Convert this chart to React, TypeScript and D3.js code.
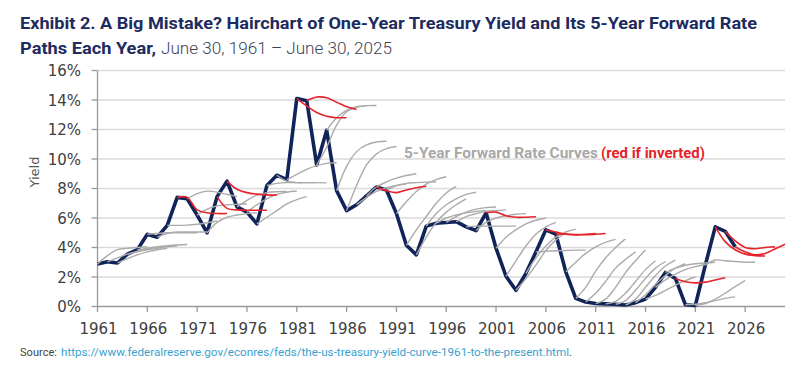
import React from 'react';
import * as d3 from 'd3';

// one-year treasury yield, June 30 each year, 1961..2025 (%)
const firstYear = 1961;
const oneYearYield = [
    2.88, 3.03, 2.95, 3.55, 3.85, 4.9, 4.7, 5.5, 7.4, 7.3,
    6.2, 5.0, 7.45, 8.5, 6.75, 6.4, 5.6, 8.2, 8.9, 8.6,
    14.1, 13.95, 9.6, 11.95, 7.85, 6.5, 6.9, 7.5, 8.1, 7.9,
    6.3, 4.15, 3.5, 5.45, 5.65, 5.7, 5.75, 5.4, 5.15, 6.35,
    3.95, 2.05, 1.1, 2.25, 3.7, 5.2, 4.9, 2.35, 0.55, 0.3,
    0.2, 0.18, 0.15, 0.1, 0.26, 0.5, 1.3, 2.31, 1.9, 0.12,
    0.07, 2.8, 5.4, 5.1, 4.05,
];

// 5-year forward rate path from each year (year t .. t+5)
const forwardPaths = [
    [2.88, 3.45, 3.85, 3.95, 4.0, 4.05],
    [3.03, 3.3, 3.55, 3.75, 3.9, 4.0],
    [2.95, 3.25, 3.5, 3.7, 3.85, 3.95],
    [3.55, 3.7, 3.85, 3.95, 4.05, 4.1],
    [3.85, 3.95, 4.05, 4.12, 4.17, 4.2],
    [4.9, 4.95, 5.0, 5.0, 5.0, 5.0],
    [4.7, 4.95, 5.05, 5.05, 5.05, 5.05],
    [5.5, 5.5, 5.52, 5.58, 5.68, 5.8],
    [7.4, 7.4, 6.55, 6.35, 6.3, 6.3],
    [7.3, 7.65, 7.82, 7.75, 7.6, 7.45],
    [6.2, 6.6, 6.82, 6.9, 6.93, 6.95],
    [5.0, 5.7, 6.05, 6.2, 6.3, 6.35],
    [7.45, 6.65, 6.55, 6.53, 6.53, 6.53],
    [8.5, 7.95, 7.72, 7.62, 7.57, 7.55],
    [6.75, 7.2, 7.55, 7.72, 7.78, 7.8],
    [6.4, 6.9, 7.3, 7.6, 7.75, 7.83],
    [5.6, 6.05, 6.5, 6.95, 7.25, 7.45],
    [8.2, 8.35, 8.4, 8.4, 8.4, 8.4],
    [8.9, 8.5, 8.4, 8.4, 8.4, 8.38],
    [8.6, 8.95, 9.3, 9.55, 9.7, 9.75],
    [14.1, 13.6, 13.15, 12.9, 12.8, 12.8],
    [13.95, 14.2, 14.15, 13.85, 13.55, 13.35],
    [9.6, 10.8, 12.3, 13.2, 13.5, 13.6],
    [11.95, 12.8, 13.3, 13.55, 13.62, 13.63],
    [7.85, 9.5, 10.5, 10.95, 11.15, 11.2],
    [6.5, 8.2, 9.6, 10.35, 10.7, 10.85],
    [6.9, 7.4, 7.8, 8.05, 8.2, 8.3],
    [7.5, 8.1, 8.45, 8.7, 8.88, 9.0],
    [8.1, 7.85, 7.72, 7.9, 8.05, 8.15],
    [7.9, 8.2, 8.35, 8.4, 8.43, 8.45],
    [6.3, 7.1, 7.8, 8.3, 8.6, 8.8],
    [4.15, 5.2, 6.1, 7.0, 7.7, 8.15],
    [3.5, 4.7, 5.7, 6.4, 6.9, 7.3],
    [5.45, 6.3, 6.9, 7.3, 7.6, 7.75],
    [5.65, 6.0, 6.2, 6.35, 6.45, 6.5],
    [5.7, 6.1, 6.4, 6.6, 6.7, 6.75],
    [5.75, 6.1, 6.3, 6.45, 6.5, 6.55],
    [5.4, 5.45, 5.45, 5.45, 5.45, 5.45],
    [5.15, 5.7, 6.0, 6.15, 6.25, 6.3],
    [6.35, 6.4, 6.15, 6.05, 6.05, 6.08],
    [3.95, 4.7, 5.2, 5.6, 5.85, 6.0],
    [2.05, 3.1, 4.1, 4.9, 5.4, 5.7],
    [1.1, 1.9, 2.8, 3.8, 4.5, 5.0],
    [2.25, 3.3, 4.1, 4.7, 5.05, 5.25],
    [3.7, 3.75, 3.78, 3.8, 3.82, 3.82],
    [5.2, 5.05, 4.9, 4.85, 4.9, 4.95],
    [4.9, 4.92, 4.88, 4.86, 4.9, 4.95],
    [2.35, 3.0, 3.6, 4.05, 4.35, 4.55],
    [0.55, 1.3, 2.4, 3.3, 4.0, 4.6],
    [0.3, 0.9, 1.7, 2.6, 3.2, 3.7],
    [0.2, 0.5, 1.3, 2.3, 3.1, 3.85],
    [0.18, 0.35, 0.9, 1.7, 2.5, 3.1],
    [0.15, 0.4, 1.1, 1.9, 2.6, 3.05],
    [0.1, 0.5, 1.3, 2.1, 2.75, 3.15],
    [0.26, 0.8, 1.5, 2.1, 2.6, 2.9],
    [0.5, 0.75, 1.1, 1.45, 1.75, 2.0],
    [1.3, 1.8, 2.2, 2.5, 2.7, 2.85],
    [2.31, 2.6, 2.8, 2.9, 2.95, 3.0],
    [1.9, 1.68, 1.6, 1.65, 1.8, 1.95],
    [0.12, 0.15, 0.25, 0.4, 0.55, 0.65],
    [0.07, 0.2, 0.5, 0.9, 1.35, 1.75],
    [2.8, 3.15, 3.1, 3.05, 3.0, 3.0],
    [5.4, 4.4, 3.85, 3.55, 3.45, 3.42],
    [5.1, 4.45, 4.0, 3.92, 4.0, 4.05],
    [4.05, 3.7, 3.5, 3.6, 3.9, 4.22],
];

const invertedYears = [1969, 1973, 1974, 1981, 1982, 1989, 2000, 2006, 2007, 2019, 2023, 2024, 2025];

const xTicks = [1961, 1966, 1971, 1976, 1981, 1986, 1991, 1996, 2001, 2006, 2011, 2016, 2021, 2026];
const yTicks = [0, 2, 4, 6, 8, 10, 12, 14, 16];

const W = 812, H = 366;
const NAVY = '#10245a';
const RED = '#e3242b';
const GREY = '#ababab';

const App = () => {
    var xScale = d3.scaleLinear().domain([1961, 2030]).range([97.5, 785]);
    var yScale = d3.scaleLinear().domain([0, 16]).range([306.5, 70.5]);

    var line = d3.line<[number, number]>()
        .x(d => xScale(d[0]))
        .y(d => yScale(d[1]));
    var smooth = d3.line<[number, number]>()
        .x(d => xScale(d[0]))
        .y(d => yScale(d[1]))
        .curve(d3.curveCatmullRom.alpha(0.5));

    var navyPts: [number, number][] = oneYearYield.map((v, i) => [firstYear + i, v]);
    var paths = forwardPaths.map((p, i) => {
        var start = firstYear + i;
        return {
            start,
            red: invertedYears.includes(start),
            pts: p.map((v, k) => [start + k, v] as [number, number]),
        };
    });

    const tickFont = { fontFamily: 'DejaVu Sans, sans-serif', fontSize: 15, fill: '#404040' };

    return (
        <svg width={W} height={H} style={{ position: 'absolute', left: 0, top: 0, background: '#fff' }}>
            {/* title */}
            <text x={20} y={29} fontFamily="Roboto, sans-serif" fontWeight={700} fontSize={16.5} fill="#1d2b5e"
                textLength={737} lengthAdjust="spacingAndGlyphs">
                Exhibit 2. A Big Mistake? Hairchart of One-Year Treasury Yield and Its 5-Year Forward Rate
            </text>
            <text x={20} y={54} fontFamily="Roboto, sans-serif" fontWeight={700} fontSize={16.5} fill="#1d2b5e"
                textLength={136} lengthAdjust="spacingAndGlyphs">
                Paths Each Year,
            </text>
            <text x={161} y={54} fontFamily="Roboto, sans-serif" fontWeight={300} fontSize={16.5} fill="#3d4257"
                textLength={231} lengthAdjust="spacingAndGlyphs">
                June 30, 1961 – June 30, 2025
            </text>

            {/* grid */}
            {yTicks.filter(t => t > 0).map(t => (
                <line key={'g' + t} x1={xScale(1961)} x2={xScale(2030)} y1={yScale(t)} y2={yScale(t)}
                    stroke="#dadada" strokeWidth={1.4} />
            ))}

            {/* axes */}
            <line x1={97.5} x2={97.5} y1={yScale(16)} y2={yScale(0)} stroke="#9a9a9a" strokeWidth={1.3} />
            <line x1={97.5} x2={xScale(2030)} y1={yScale(0)} y2={yScale(0)} stroke="#9a9a9a" strokeWidth={1.3} />
            {yTicks.map(t => (
                <g key={'y' + t}>
                    <line x1={91.5} x2={97.5} y1={yScale(t)} y2={yScale(t)} stroke="#9a9a9a" strokeWidth={1.3} />
                    <text x={81} y={yScale(t) + 5.5} textAnchor="end" {...tickFont}>{t}%</text>
                </g>
            ))}
            {xTicks.map(t => (
                <g key={'x' + t}>
                    <line x1={xScale(t)} x2={xScale(t)} y1={yScale(0)} y2={yScale(0) + 5.5} stroke="#9a9a9a" strokeWidth={1.3} />
                    <text x={xScale(t) + 1} y={334} textAnchor="middle" {...tickFont}>{t}</text>
                </g>
            ))}
            <text transform="translate(39,172) rotate(-90)" textAnchor="middle" fontFamily="DejaVu Sans, sans-serif"
                fontSize={13} fill="#555">Yield</text>

            {/* one-year yield */}
            <path d={line(navyPts) || ''} fill="none" stroke={NAVY} strokeWidth={3.6} strokeLinejoin="round" />

            {/* forward paths, grey first then red */}
            {paths.filter(p => !p.red).map(p => (
                <path key={'p' + p.start} d={smooth(p.pts) || ''} fill="none" stroke={GREY} strokeWidth={1.4} />
            ))}
            {paths.filter(p => p.red).map(p => (
                <path key={'r' + p.start} d={smooth(p.pts) || ''} fill="none" stroke={RED} strokeWidth={1.6} />
            ))}

            {/* legend */}
            <text x={404} y={158} fontFamily="Roboto, sans-serif" fontWeight={700} fontSize={14} fill="#a8a8a8"
                textLength={194} lengthAdjust="spacingAndGlyphs">5-Year Forward Rate Curves</text>
            <text x={601} y={158} fontFamily="Roboto, sans-serif" fontWeight={700} fontSize={14} fill={RED}
                textLength={104} lengthAdjust="spacingAndGlyphs">(red if inverted)</text>

            {/* source */}
            <text x={20} y={356} fontFamily="Roboto, sans-serif" fontSize={10.5} fill="#444"
                textLength={37} lengthAdjust="spacingAndGlyphs">Source:</text>
            <text x={61} y={356} fontFamily="Roboto, sans-serif" fontSize={10.5} fill="#3a9fcf"
                textLength={508} lengthAdjust="spacingAndGlyphs">https://www.federalreserve.gov/econres/feds/the-us-treasury-yield-curve-1961-to-the-present.html</text>
            <text x={569} y={356} fontFamily="Roboto, sans-serif" fontSize={10.5} fill="#444">.</text>
        </svg>
    );
};

export default App;
